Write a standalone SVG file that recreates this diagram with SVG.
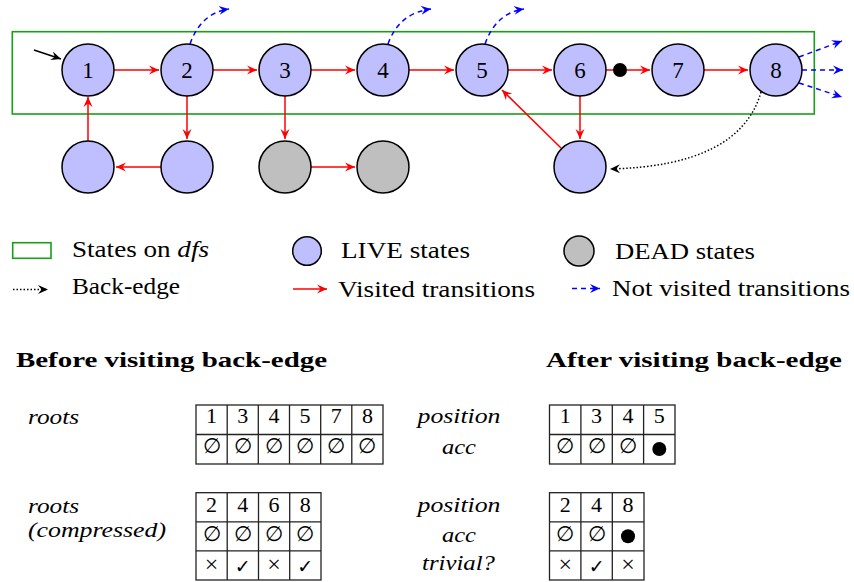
<svg xmlns="http://www.w3.org/2000/svg" width="854" height="582" viewBox="0 0 854 582" font-family="'Liberation Serif', serif">
<style>
.live{fill:#bfbfff;stroke:#000;stroke-width:1.5}
.dead{fill:#bfbfbf;stroke:#000;stroke-width:1.5}
.lbl{font-family:'Liberation Serif',serif;font-size:23px;text-anchor:middle;fill:#000}
.red{stroke:#ff0000;stroke-width:1.5;fill:none;marker-end:url(#ar)}
.blue{stroke:#0000ff;stroke-width:1.5;fill:none;stroke-dasharray:5 4;marker-end:url(#ab)}
.blk{stroke:#000;stroke-width:1.5;fill:none;marker-end:url(#ak)}
.dot{stroke:#000;stroke-width:1.5;fill:none;stroke-dasharray:1.5 2;marker-end:url(#ak)}
.txt{font-family:'Liberation Serif',serif;font-size:24px;fill:#000}
.it{font-style:italic}
.ttl{font-family:'Liberation Serif',serif;font-size:22px;font-weight:bold;fill:#000}
.tl{font-family:'Liberation Serif',serif;font-size:22px;font-style:italic;fill:#000}
.cell{font-family:'Liberation Serif',serif;font-size:22px;text-anchor:middle;fill:#000}
.es{font-family:'Liberation Serif','DejaVu Serif',serif;font-size:21px;text-anchor:middle;fill:#000}
.x{font-family:'Liberation Serif',serif;font-size:24px;text-anchor:middle;fill:#000}
.sym{font-family:'DejaVu Sans',sans-serif;font-size:19px;text-anchor:middle;fill:#000}
.grid{stroke:#222;stroke-width:1.3;fill:none}
</style>
<defs>
<marker id="ar" viewBox="-10 -5 11 10" refX="0" refY="0" markerWidth="11" markerHeight="10" markerUnits="userSpaceOnUse" orient="auto"><path d="M0,0 L-10,-4.5 L-6.5,0 L-10,4.5 Z" fill="#ff0000"/></marker>
<marker id="ab" viewBox="-10 -5 11 10" refX="0" refY="0" markerWidth="11" markerHeight="10" markerUnits="userSpaceOnUse" orient="auto"><path d="M0,0 L-10,-4.5 L-6.5,0 L-10,4.5 Z" fill="#0000ff"/></marker>
<marker id="ak" viewBox="-10 -5 11 10" refX="0" refY="0" markerWidth="11" markerHeight="10" markerUnits="userSpaceOnUse" orient="auto"><path d="M0,0 L-10,-4.5 L-6.5,0 L-10,4.5 Z" fill="#000"/></marker>
</defs>
<rect width="854" height="582" fill="#fff"/>

<rect id="dfs-box" x="12.3" y="31.7" width="802" height="82.3" fill="none" stroke="#1a9e1a" stroke-width="1.6"/>

<g id="connectors">
<path class="blk" d="M34,50 L61,59"/>
<path class="red" d="M114,70 L159,70"/>
<path class="red" d="M213,70 L257,70"/>
<path class="red" d="M311,70 L355,70"/>
<path class="red" d="M409,70 L454,70"/>
<path class="red" d="M508,70 L552,70"/>
<path stroke="#ff0000" stroke-width="1.5" d="M606,70 L614,70"/>
<path class="red" d="M627,70 L650,70"/>
<path class="red" d="M704,70 L748,70"/>
<path class="red" d="M88,141 L88,97"/>
<path class="red" d="M187,96 L187,139"/>
<path class="red" d="M161,167 L116,167"/>
<path class="red" d="M285,96 L285,139"/>
<path class="red" d="M311,167 L355,167"/>
<path class="red" d="M580,96 L580,139"/>
<path class="red" d="M561,148 L502,90"/>
<path class="blue" d="M190,44 Q201,13 229,9"/>
<path class="blue" d="M388,44 Q399,13 431,9"/>
<path class="blue" d="M485,44 Q496,13 524,9"/>
<path class="blue" d="M799,57 L842,41"/>
<path class="blue" d="M802,70 L843,70"/>
<path class="blue" d="M799,83 L842,97"/>
<path class="dot" d="M761,92 Q740,166 610,169"/>
</g>

<g id="node-1"><circle class="live" cx="88" cy="70" r="26"/><text class="lbl" x="88" y="78">1</text></g>
<g id="node-2"><circle class="live" cx="187" cy="70" r="26"/><text class="lbl" x="187" y="78">2</text></g>
<g id="node-3"><circle class="live" cx="285" cy="70" r="26"/><text class="lbl" x="285" y="78">3</text></g>
<g id="node-4"><circle class="live" cx="383" cy="70" r="26"/><text class="lbl" x="383" y="78">4</text></g>
<g id="node-5"><circle class="live" cx="482" cy="70" r="26"/><text class="lbl" x="482" y="78">5</text></g>
<g id="node-6"><circle class="live" cx="580" cy="70" r="26"/><text class="lbl" x="580" y="78">6</text></g>
<g id="node-7"><circle class="live" cx="678" cy="70" r="26"/><text class="lbl" x="678" y="78">7</text></g>
<g id="node-8"><circle class="live" cx="776" cy="70" r="26"/><text class="lbl" x="776" y="78">8</text></g>
<g id="mark-6-7"><circle cx="620" cy="70" r="7" fill="#000"/></g>
<g id="node-b1"><circle class="live" cx="88" cy="167" r="26"/></g>
<g id="node-b2"><circle class="live" cx="187" cy="167" r="26"/></g>
<g id="node-b3"><circle class="dead" cx="285" cy="167" r="26"/></g>
<g id="node-b4"><circle class="dead" cx="383" cy="167" r="26"/></g>
<g id="node-b6"><circle class="live" cx="580" cy="167" r="26"/></g>

<g id="legend">
<rect x="12.7" y="242.7" width="38.3" height="15.6" fill="none" stroke="#1a9e1a" stroke-width="1.6"/>
<text class="txt" x="72" y="257" textLength="137" lengthAdjust="spacingAndGlyphs">States on <tspan class="it">dfs</tspan></text>
<path class="dot" d="M13,289.5 L48,289.5"/>
<text class="txt" x="72" y="294" textLength="108" lengthAdjust="spacingAndGlyphs">Back-edge</text>
<circle class="live" cx="307" cy="251" r="14.3"/>
<text class="txt" x="341" y="258" textLength="129" lengthAdjust="spacingAndGlyphs">LIVE states</text>
<path class="red" d="M293,289 L327,289"/>
<text class="txt" x="338" y="297" textLength="197" lengthAdjust="spacingAndGlyphs">Visited transitions</text>
<circle class="dead" cx="579" cy="251" r="15"/>
<text class="txt" x="615" y="258.5" textLength="140" lengthAdjust="spacingAndGlyphs">DEAD states</text>
<path class="blue" d="M572,288.5 L600,288.5"/>
<text class="txt" x="612" y="296" textLength="238" lengthAdjust="spacingAndGlyphs">Not visited transitions</text>
</g>

<g id="before">
<text class="ttl" x="16" y="367" textLength="311" lengthAdjust="spacingAndGlyphs">Before visiting back-edge</text>
<text class="tl" x="28" y="424" textLength="51" lengthAdjust="spacingAndGlyphs">roots</text>
<g class="grid">
<rect x="196" y="405" width="187" height="59"/>
<path d="M196,434.5 H383 M227.2,405 V464 M258.3,405 V464 M289.5,405 V464 M320.7,405 V464 M351.8,405 V464"/>
</g>
<text class="cell" x="211.6" y="423">1</text>
<text class="cell" x="242.7" y="423">3</text>
<text class="cell" x="273.9" y="423">4</text>
<text class="cell" x="305.1" y="423">5</text>
<text class="cell" x="336.2" y="423">7</text>
<text class="cell" x="367.4" y="423">8</text>
<text class="es" x="211.6" y="453">∅</text>
<text class="es" x="242.7" y="453">∅</text>
<text class="es" x="273.9" y="453">∅</text>
<text class="es" x="305.1" y="453">∅</text>
<text class="es" x="336.2" y="453">∅</text>
<text class="es" x="367.4" y="453">∅</text>

<text class="tl" x="28" y="512.5" textLength="51" lengthAdjust="spacingAndGlyphs">roots</text>
<text class="tl" x="28" y="537" textLength="138" lengthAdjust="spacingAndGlyphs">(compressed)</text>
<g class="grid">
<rect x="196" y="492.7" width="125" height="87.3"/>
<path d="M196,521.8 H321 M196,550.9 H321 M227.2,492.7 V580 M258.5,492.7 V580 M289.7,492.7 V580"/>
</g>
<text class="cell" x="211.6" y="511.5">2</text>
<text class="cell" x="242.8" y="511.5">4</text>
<text class="cell" x="274.1" y="511.5">6</text>
<text class="cell" x="305.3" y="511.5">8</text>
<text class="es" x="211.6" y="540.5">∅</text>
<text class="es" x="242.8" y="540.5">∅</text>
<text class="es" x="274.1" y="540.5">∅</text>
<text class="es" x="305.3" y="540.5">∅</text>
<text class="x" x="211.6" y="572">×</text>
<text class="sym" x="242.8" y="573">✓</text>
<text class="x" x="274.1" y="572">×</text>
<text class="sym" x="305.3" y="573">✓</text>
</g>

<g id="after">
<text class="ttl" x="546" y="367" textLength="296" lengthAdjust="spacingAndGlyphs">After visiting back-edge</text>
<text class="tl" x="459" y="423" text-anchor="middle" textLength="83" lengthAdjust="spacingAndGlyphs">position</text>
<text class="tl" x="459" y="454" text-anchor="middle" textLength="34" lengthAdjust="spacingAndGlyphs">acc</text>
<g class="grid">
<rect x="549.5" y="405" width="125.5" height="59"/>
<path d="M549.5,434.5 H675 M580.9,405 V464 M612.3,405 V464 M643.6,405 V464"/>
</g>
<text class="cell" x="565.2" y="423">1</text>
<text class="cell" x="596.6" y="423">3</text>
<text class="cell" x="628" y="423">4</text>
<text class="cell" x="659.3" y="423">5</text>
<text class="es" x="565.2" y="453">∅</text>
<text class="es" x="596.6" y="453">∅</text>
<text class="es" x="628" y="453">∅</text>
<circle cx="659.3" cy="449" r="7"/>

<text class="tl" x="459" y="512" text-anchor="middle" textLength="83" lengthAdjust="spacingAndGlyphs">position</text>
<text class="tl" x="459" y="542" text-anchor="middle" textLength="34" lengthAdjust="spacingAndGlyphs">acc</text>
<text class="tl" x="458.5" y="570" text-anchor="middle" textLength="73" lengthAdjust="spacingAndGlyphs">trivial?</text>
<g class="grid">
<rect x="549.5" y="492.7" width="94.5" height="87.3"/>
<path d="M549.5,521.8 H644 M549.5,550.9 H644 M580.9,492.7 V580 M612.3,492.7 V580"/>
</g>
<text class="cell" x="565.2" y="511.5">2</text>
<text class="cell" x="596.6" y="511.5">4</text>
<text class="cell" x="628" y="511.5">8</text>
<text class="es" x="565.2" y="540.5">∅</text>
<text class="es" x="596.6" y="540.5">∅</text>
<circle cx="628" cy="536.3" r="7"/>
<text class="x" x="565.2" y="572">×</text>
<text class="sym" x="596.6" y="573">✓</text>
<text class="x" x="628" y="572">×</text>
</g>
</svg>
